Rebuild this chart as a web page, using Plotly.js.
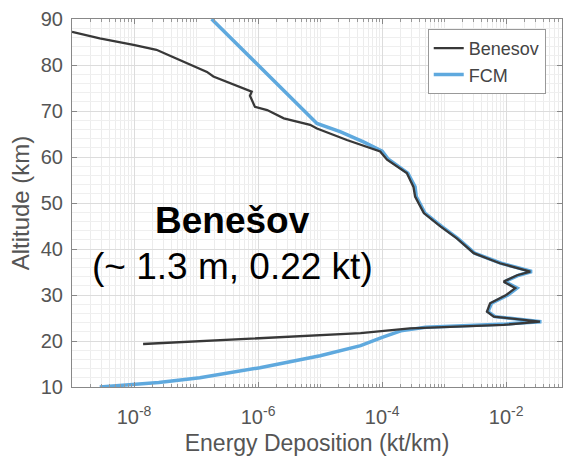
<!DOCTYPE html>
<html>
<head>
<meta charset="utf-8">
<script src="https://cdn.plot.ly/plotly-3.0.1.min.js"></script>
<style>html,body{margin:0;padding:0;background:#fff;}#chart{width:564px;height:460px;}</style>
</head>
<body>
<div id="chart"></div>
<script>
// Benesov profile: energy deposition (kt/km) vs altitude (km)
const benesovEnergy = [1.0e-9, 2.8e-9, 9.8e-9, 2.3e-8, 3.8e-8, 1.0e-7, 1.5e-7, 1.9e-7, 5.8e-7, 7.9e-7, 7.4e-7, 8.9e-7, 1.4e-6, 2.6e-6, 6.9e-6, 8.9e-6, 2.7e-5, 9.3e-5, 1.2e-4, 2.5e-4, 3.2e-4, 3.4e-4, 4.7e-4, 8.7e-4, 1.6e-3, 3.0e-3, 7.9e-3, 2.45e-2, 1.5e-2, 9.1e-3, 1.4e-2, 1.0e-2, 5.5e-3, 4.9e-3, 6.3e-3, 3.5e-2, 9.1e-3, 2.8e-4, 4.5e-5, 1.0e-6, 1.4e-8];
const benesovAlt = [87.2, 85.8, 84.4, 83.3, 82.0, 79.6, 78.5, 77.5, 74.9, 74.2, 73.3, 70.9, 70.2, 68.4, 67.0, 66.2, 63.7, 61.2, 59.4, 56.5, 53.5, 51.4, 47.8, 44.9, 42.3, 39.1, 36.9, 35.1, 34.3, 32.9, 31.5, 30.0, 28.2, 26.4, 25.3, 24.2, 23.5, 22.75, 21.7, 20.6, 19.35];

// FCM model profile
const fcmEnergy = [1.78e-7, 3.6e-6, 8.9e-6, 2.1e-5, 5.0e-5, 1.0e-4, 1.26e-4, 2.6e-4, 3.4e-4, 3.55e-4, 4.9e-4, 9.1e-4, 1.66e-3, 3.1e-3, 8.3e-3, 2.6e-2, 1.6e-2, 9.5e-3, 1.5e-2, 1.07e-2, 5.8e-3, 5.1e-3, 6.6e-3, 3.7e-2, 1.0e-2, 5.0e-4, 2.0e-4, 1.0e-4, 4.5e-5, 1.0e-5, 1.07e-6, 1.15e-7, 2.5e-8, 2.8e-9];
const fcmAlt = [90.0, 72.6, 67.3, 65.5, 63.3, 61.3, 59.5, 56.5, 53.5, 51.4, 47.8, 44.9, 42.3, 39.1, 36.9, 35.1, 34.3, 32.9, 31.5, 30.0, 28.2, 26.4, 25.3, 24.2, 23.7, 23.0, 22.2, 20.8, 19.0, 16.8, 14.2, 12.0, 11.0, 10.0];

// Axis tick labels
const xTickVals = [1e-8, 1e-6, 1e-4, 1e-2];
const xTickText = ['10<sup>-8</sup>', '10<sup>-6</sup>', '10<sup>-4</sup>', '10<sup>-2</sup>'];
const yTickVals = [10, 20, 30, 40, 50, 60, 70, 80, 90];

const seriesNames = ['Benesov', 'FCM'];
const titleMain = 'Benešov';
const titleSub = '(~ 1.3 m, 0.22 kt)';

// minor log ticks: odd decades plus 2..9 within each decade
const xMinor = [];
for (let e = -9; e < -1; e++) {
  if (e % 2 !== 0) xMinor.push(Math.pow(10, e));
  for (let m = 2; m <= 9; m++) xMinor.push(m * Math.pow(10, e));
}
xMinor.push(1e-1);

const FONT = 'Liberation Sans, Arial, Helvetica, sans-serif';
const GRAY = '#555555';

// FCM drawn first (wider, underneath), Benesov on top; legend reversed so Benesov is listed first
const traces = [
  {x: fcmEnergy, y: fcmAlt, mode: 'lines', name: seriesNames[1],
   line: {color: '#5fa9de', width: 3.5}},
  {x: benesovEnergy, y: benesovAlt, mode: 'lines', name: seriesNames[0],
   line: {color: '#383838', width: 2.3}}
];

const layout = {
  width: 564, height: 460,
  margin: {l: 72, r: 2, t: 19, b: 73},
  paper_bgcolor: '#ffffff', plot_bgcolor: '#ffffff',
  font: {family: FONT, color: GRAY, size: 20},
  showlegend: true,
  legend: {x: 0.726, y: 0.973, xanchor: 'left', yanchor: 'top',
           bordercolor: '#999999', borderwidth: 1, bgcolor: '#ffffff',
           font: {size: 18, color: '#444444'}, traceorder: 'reversed'},
  xaxis: {
    type: 'log', range: [-9, -1.1],
    tickmode: 'array', tickvals: xTickVals, ticktext: xTickText,
    ticks: 'inside', ticklen: 5, tickcolor: '#888888',
    showline: true, linecolor: '#888888', linewidth: 1, mirror: 'ticks',
    showgrid: true, gridcolor: '#dcdcdc', zeroline: false,
    minor: {tickmode: 'array', tickvals: xMinor, showgrid: true, gridcolor: '#ececec',
            ticks: 'inside', ticklen: 3, tickcolor: '#999999'},
    tickfont: {size: 20, color: GRAY}, ticklabelstandoff: 12,
    title: {text: 'Energy Deposition (kt/km)', font: {size: 23, color: GRAY}, standoff: 7}
  },
  yaxis: {
    range: [10, 90], tickmode: 'array', tickvals: yTickVals,
    ticks: 'inside', ticklen: 5, tickcolor: '#888888',
    showline: true, linecolor: '#888888', linewidth: 1, mirror: 'ticks',
    showgrid: true, gridcolor: '#dcdcdc', zeroline: false,
    minor: {dtick: 2, showgrid: true, gridcolor: '#efefef', ticks: ''},
    tickfont: {size: 20, color: GRAY}, ticklabelstandoff: 4,
    title: {text: 'Altitude (km)', font: {size: 24, color: GRAY}, standoff: 4}
  },
  annotations: [
    {x: -6.42, y: 46.3, xref: 'x', yref: 'y', text: '<b>' + titleMain + '</b>', showarrow: false,
     font: {size: 37, color: '#000000', family: FONT}, xanchor: 'center', yanchor: 'middle'},
    {x: -6.42, y: 36.2, xref: 'x', yref: 'y', text: titleSub, showarrow: false,
     font: {size: 37, color: '#000000', family: FONT}, xanchor: 'center', yanchor: 'middle'}
  ]
};

Plotly.newPlot('chart', traces, layout, {staticPlot: true, displayModeBar: false});
</script>
</body>
</html>
